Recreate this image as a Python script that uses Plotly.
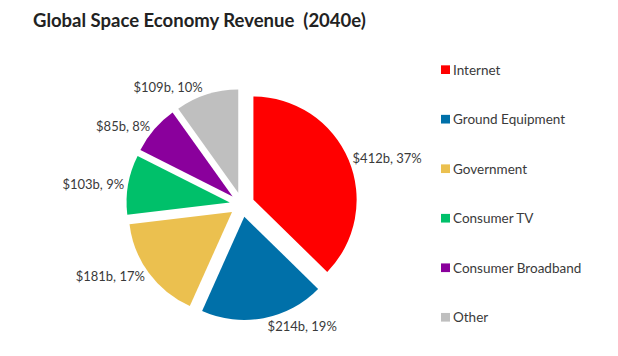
import plotly.graph_objects as go

categories = ["Internet", "Ground Equipment", "Government", "Consumer TV", "Consumer Broadband", "Other"]
values = [412, 214, 181, 103, 85, 109]
percents = [37, 19, 17, 9, 8, 10]
colors = ["#FF0000", "#0070A9", "#EBC04F", "#00C06A", "#8A009C", "#BFBFBF"]

W, H = 618, 356
OFF = 8  # default page body margin
FONT = "Lato, Open Sans, sans-serif"
labels_text = [f"${v}b, {p}%" for v, p in zip(values, percents)]


def px(x):
    return (x - OFF) / W


def py(y):
    return 1 - (y - OFF) / H


fig = go.Figure()
fig.add_trace(go.Pie(
    labels=categories,
    values=values,
    text=labels_text,
    textinfo="text",
    textposition="outside",
    sort=False,
    direction="clockwise",
    rotation=0,
    pull=[0.12] * len(values),
    marker=dict(colors=colors, line=dict(width=0)),
    textfont=dict(family=FONT, size=13, color="#3A3A3A"),
    domain=dict(x=[px(122), px(362)], y=[py(332), py(92)]),
    showlegend=False,
    hoverinfo="label+value+percent",
))

# custom legend
shapes = []
annotations = []
y0 = 72
step = 51.4
for i, (cat, col) in enumerate(zip(categories, colors)):
    yc = y0 + i * step
    shapes.append(dict(type="rect", xref="paper", yref="paper",
                       x0=px(441), x1=px(450),
                       y0=py(yc + 4.5), y1=py(yc - 4.5),
                       fillcolor=col, line=dict(width=0)))
    annotations.append(dict(x=px(451), y=py(yc), xref="paper", yref="paper",
                            text=cat, showarrow=False, xanchor="left", yanchor="middle",
                            font=dict(family=FONT, size=13.5, color="#3A3A3A")))

annotations.append(dict(x=px(31), y=py(20), xref="paper", yref="paper",
                        text="<b>Global Space Economy Revenue  (2040e)</b>", showarrow=False,
                        xanchor="left", yanchor="middle",
                        font=dict(family=FONT, size=18.5, color="#222222")))

fig.update_layout(
    width=W, height=H,
    margin=dict(l=0, r=0, t=0, b=0),
    paper_bgcolor="white",
    plot_bgcolor="white",
    shapes=shapes,
    annotations=annotations,
)

fig.write_html("out.html", config={"displayModeBar": False})
